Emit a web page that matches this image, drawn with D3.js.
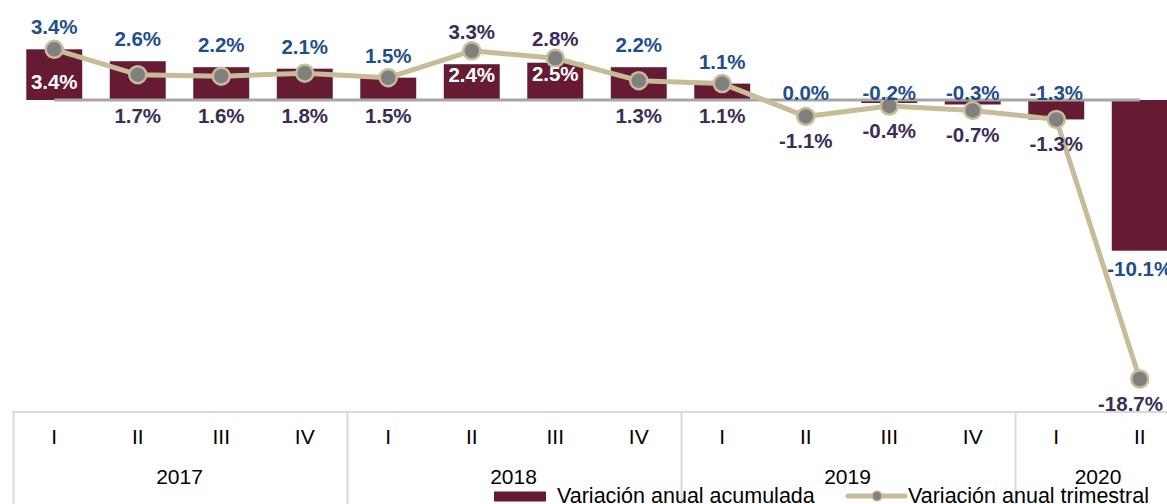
<!DOCTYPE html>
<html>
<head>
<meta charset="utf-8">
<script src="https://cdn.jsdelivr.net/npm/d3@7/dist/d3.min.js"></script>
<style>
  html, body { margin: 0; padding: 0; background: #fff; }
  svg { display: block; font-family: "Liberation Sans", Arial, sans-serif; }
</style>
</head>
<body>
<svg id="chart" width="1167" height="504"></svg>
<script>
// ---- data ----
const quarters = ["I","II","III","IV","I","II","III","IV","I","II","III","IV","I","II"];
const years = ["2017","2018","2019","2020"];
const yearQuarterCount = [4, 4, 4, 2];
const acumulada = [3.4, 2.6, 2.2, 2.1, 1.5, 2.4, 2.5, 2.2, 1.1, 0.0, -0.2, -0.3, -1.3, -10.1];
const trimestral = [3.4, 1.7, 1.6, 1.8, 1.5, 3.3, 2.8, 1.3, 1.1, -1.1, -0.4, -0.7, -1.3, -18.7];
const seriesNames = ["Variación anual acumulada", "Variación anual trimestral"];

// label placement keywords (styling, not data)
const lineLabelPlace = ["inside","below","below","below","below","above","above","below","below","below","below","below","below","below"];

// ---- styling ----
const W = 1167;
const barColor = "#661B33";
const lineColor = "#C6BC98";
const markerFill = "#808080";
const blue = "#1F4E8A";
const purple = "#3B2C58";

const svg = d3.select("#chart");
const idx = d3.range(quarters.length);

const x = d3.scaleBand().domain(idx).range([12.5, 1181.5]).paddingInner(0.33).paddingOuter(0.165);
const y = d3.scaleLinear().domain([-18.7, 3.4]).range([379, 49.3]);
const y0 = y(0);
const cx = i => x(i) + x.bandwidth() / 2;
const fmt = v => v.toFixed(1) + "%";

// bars
svg.append("g").selectAll("rect").data(idx).join("rect")
  .attr("x", i => x(i))
  .attr("width", x.bandwidth())
  .attr("y", i => Math.min(y(acumulada[i]), y0))
  .attr("height", i => Math.abs(y(acumulada[i]) - y0))
  .attr("fill", barColor);

// zero line
svg.append("line")
  .attr("x1", cx(0)).attr("x2", cx(idx.length - 1))
  .attr("y1", y0).attr("y2", y0)
  .attr("stroke", "#A6A6A6").attr("stroke-width", 3);

// line series
const lineGen = d3.line().x(i => cx(i)).y(i => y(trimestral[i]));
svg.append("path").datum(idx)
  .attr("d", lineGen)
  .attr("fill", "none")
  .attr("stroke", lineColor)
  .attr("stroke-width", 5)
  .attr("stroke-linejoin", "round");

svg.append("g").selectAll("circle").data(idx).join("circle")
  .attr("cx", i => cx(i))
  .attr("cy", i => y(trimestral[i]))
  .attr("r", 8.5)
  .attr("fill", markerFill)
  .attr("stroke", lineColor)
  .attr("stroke-width", 2.5);

// bar labels
const lab = svg.append("g").attr("font-size", 20.5).attr("font-weight", "bold").attr("text-anchor", "middle");
idx.forEach(i => {
  const v = acumulada[i];
  let cy, color = blue;
  if (trimestral[i] > v && v > 0) {
    cy = y(v) + 11; color = "#fff";
  } else if (v > 0) {
    cy = y(v) - 22;
  } else if (v > -5) {
    cy = y0 - 7;
  } else {
    cy = y(v) + 18;
  }
  lab.append("text").attr("x", cx(i)).attr("y", cy + 7).attr("fill", color).text(fmt(v));
});

// line labels (kept inside the right edge)
idx.forEach(i => {
  const v = trimestral[i];
  const place = lineLabelPlace[i];
  let cy, color = purple;
  if (place === "above") {
    cy = y(v) - 19;
  } else if (place === "inside") {
    cy = y(v) + 33; color = "#fff";
  } else {
    cy = Math.max(y(v) + 25, y0 + 16);
  }
  const t = lab.append("text").attr("x", cx(i)).attr("y", cy + 7).attr("fill", color).text(fmt(v));
  const bb = t.node().getBBox();
  if (bb.x + bb.width > W - 4) t.attr("x", cx(i) - (bb.x + bb.width - (W - 4)));
});

// category axis table
const axisTop = 412;
const axisG = svg.append("g");
axisG.append("line").attr("x1", 12).attr("x2", W).attr("y1", axisTop).attr("y2", axisTop)
  .attr("stroke", "#D9D9D9").attr("stroke-width", 2);

axisG.selectAll("text.q").data(idx).join("text").attr("class", "q")
  .attr("x", i => cx(i)).attr("y", 444)
  .attr("text-anchor", "middle").attr("font-size", 21).attr("fill", "#000")
  .text(i => quarters[i]);

let start = 0;
const bounds = [];
years.forEach((yr, k) => {
  const n = yearQuarterCount[k];
  const left = x(start) - x.step() * x.paddingInner() / 2;
  const right = x(start + n - 1) + x.bandwidth() + x.step() * x.paddingInner() / 2;
  bounds.push(left);
  axisG.append("text").attr("x", (left + right) / 2).attr("y", 484)
    .attr("text-anchor", "middle").attr("font-size", 21).attr("fill", "#000").text(yr);
  start += n;
});
bounds.forEach(b => {
  axisG.append("line").attr("x1", Math.round(b) + 0.5).attr("x2", Math.round(b) + 0.5)
    .attr("y1", axisTop).attr("y2", 504).attr("stroke", "#D9D9D9").attr("stroke-width", 2);
});

// legend
const leg = svg.append("g").attr("font-size", 21.5).attr("fill", "#000");
leg.append("rect").attr("x", 494).attr("y", 491.5).attr("width", 52).attr("height", 10).attr("fill", barColor);
leg.append("text").attr("x", 557).attr("y", 503).text(seriesNames[0]);
leg.append("line").attr("x1", 848).attr("x2", 905).attr("y1", 496).attr("y2", 496)
  .attr("stroke", lineColor).attr("stroke-width", 5).attr("stroke-linecap", "round");
leg.append("circle").attr("cx", 877).attr("cy", 496).attr("r", 5).attr("fill", markerFill)
  .attr("stroke", lineColor).attr("stroke-width", 1.5);
leg.append("text").attr("x", 908).attr("y", 503).text(seriesNames[1]);
</script>
</body>
</html>
